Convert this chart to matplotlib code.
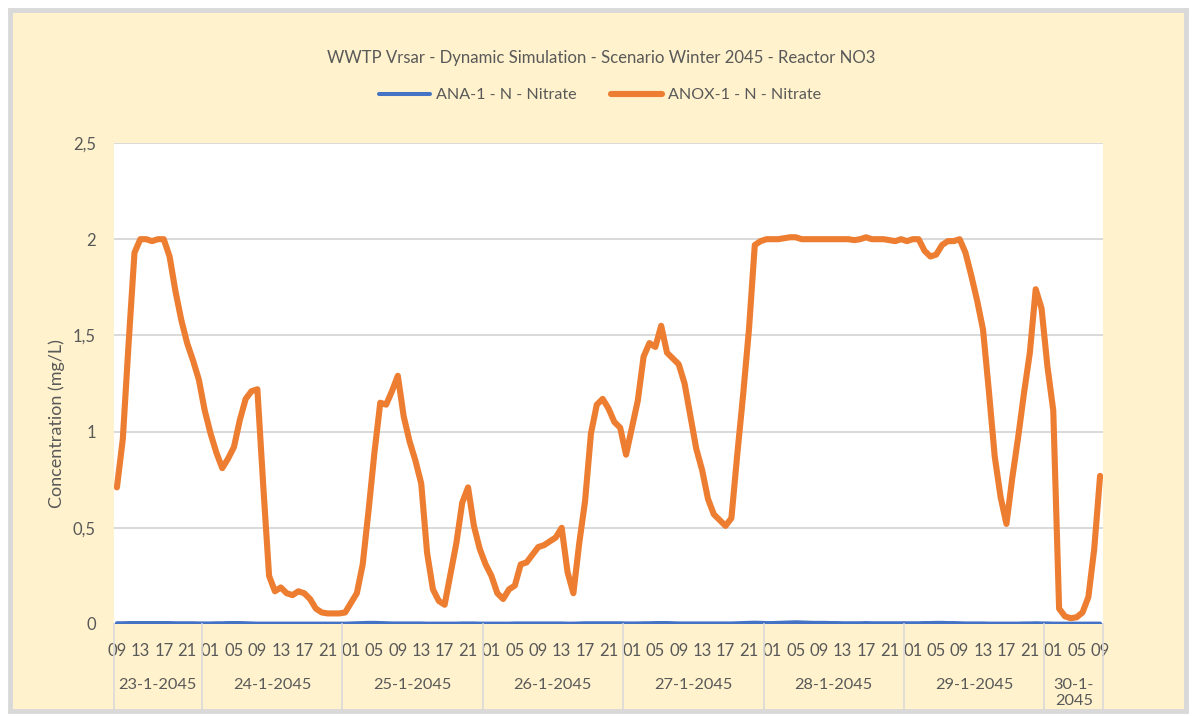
import matplotlib
matplotlib.use('Agg')
import matplotlib.pyplot as plt
import matplotlib.transforms as mtransforms
from matplotlib.patches import Rectangle
from matplotlib.lines import Line2D
import numpy as np

plt.rcParams['font.family'] = ['Lato', 'DejaVu Sans']

W, H = 1192, 716

title = 'WWTP Vrsar - Dynamic Simulation - Scenario Winter 2045 - Reactor NO3'
series_names = ['ANA-1 - N - Nitrate', 'ANOX-1 - N - Nitrate']
y_label = 'Concentration (mg/L)'

# hourly values, 23-1-2045 09:00 ... 30-1-2045 09:00 (169 points)
anox = [
    0.71, 0.96, 1.46, 1.93, 2.00, 2.00, 1.99, 2.00, 2.00, 1.91,
    1.73, 1.58, 1.46, 1.37, 1.27, 1.11, 0.99, 0.89, 0.81, 0.86,
    0.92, 1.06, 1.17, 1.21, 1.22, 0.72, 0.25, 0.17, 0.19, 0.16,
    0.15, 0.17, 0.16, 0.13, 0.08, 0.06, 0.055, 0.055, 0.055, 0.06,
    0.11, 0.16, 0.31, 0.59, 0.89, 1.15, 1.14, 1.21, 1.29, 1.08,
    0.95, 0.85, 0.73, 0.37, 0.18, 0.12, 0.10, 0.26, 0.42, 0.63,
    0.71, 0.51, 0.39, 0.31, 0.25, 0.16, 0.13, 0.18, 0.20, 0.31,
    0.32, 0.36, 0.40, 0.41, 0.43, 0.45, 0.50, 0.27, 0.16, 0.42,
    0.64, 0.99, 1.14, 1.17, 1.12, 1.05, 1.02, 0.88, 1.02, 1.16,
    1.39, 1.46, 1.44, 1.55, 1.41, 1.38, 1.35, 1.25, 1.08, 0.91,
    0.80, 0.65, 0.57, 0.54, 0.51, 0.55, 0.88, 1.19, 1.53, 1.97,
    1.99, 2.00, 2.00, 2.00, 2.005, 2.01, 2.01, 2.00, 2.00, 2.00,
    2.00, 2.00, 2.00, 2.00, 2.00, 2.00, 1.995, 2.00, 2.01, 2.00,
    2.00, 2.00, 1.995, 1.99, 2.00, 1.99, 2.00, 2.00, 1.94, 1.91,
    1.92, 1.97, 1.99, 1.99, 2.00, 1.93, 1.81, 1.68, 1.53, 1.21,
    0.87, 0.66, 0.52, 0.76, 0.97, 1.20, 1.41, 1.74, 1.64, 1.34,
    1.11, 0.08, 0.04, 0.03, 0.035, 0.06, 0.14, 0.39, 0.77,
]

ana = [
    0.004, 0.004, 0.005, 0.005, 0.005, 0.005, 0.005, 0.005, 0.005, 0.005,
    0.004, 0.004, 0.004, 0.004, 0.003, 0.003, 0.003, 0.004, 0.004, 0.005,
    0.005, 0.005, 0.004, 0.003, 0.002, 0.002, 0.002, 0.002, 0.002, 0.002,
    0.002, 0.002, 0.002, 0.002, 0.002, 0.002, 0.002, 0.002, 0.002, 0.002,
    0.003, 0.004, 0.005, 0.006, 0.006, 0.005, 0.004, 0.003, 0.003, 0.003,
    0.003, 0.003, 0.003, 0.002, 0.002, 0.002, 0.002, 0.002, 0.002, 0.003,
    0.003, 0.003, 0.002, 0.002, 0.002, 0.002, 0.002, 0.002, 0.003, 0.003,
    0.003, 0.003, 0.003, 0.003, 0.003, 0.003, 0.003, 0.002, 0.002, 0.003,
    0.004, 0.004, 0.004, 0.004, 0.004, 0.004, 0.004, 0.003, 0.003, 0.003,
    0.004, 0.004, 0.005, 0.005, 0.005, 0.004, 0.003, 0.003, 0.003, 0.003,
    0.003, 0.003, 0.003, 0.003, 0.003, 0.003, 0.004, 0.005, 0.006, 0.007,
    0.006, 0.005, 0.005, 0.006, 0.007, 0.008, 0.009, 0.008, 0.007, 0.006,
    0.006, 0.006, 0.005, 0.005, 0.004, 0.004, 0.004, 0.004, 0.005, 0.004,
    0.004, 0.004, 0.004, 0.004, 0.004, 0.004, 0.004, 0.004, 0.005, 0.005,
    0.006, 0.006, 0.005, 0.005, 0.004, 0.003, 0.003, 0.003, 0.003, 0.002,
    0.002, 0.002, 0.002, 0.002, 0.002, 0.003, 0.003, 0.004, 0.003, 0.003,
    0.002, 0.002, 0.002, 0.002, 0.002, 0.002, 0.002, 0.002, 0.002,
]

hour_labels = ['09', '13', '17', '21',
               '01', '05', '09', '13', '17', '21',
               '01', '05', '09', '13', '17', '21',
               '01', '05', '09', '13', '17', '21',
               '01', '05', '09', '13', '17', '21',
               '01', '05', '09', '13', '17', '21',
               '01', '05', '09', '13', '17', '21',
               '01', '05', '09']
day_labels = ['23-1-2045', '24-1-2045', '25-1-2045', '26-1-2045',
              '27-1-2045', '28-1-2045', '29-1-2045', '30-1-\n2045']
hours_per_day = [15, 24, 24, 24, 24, 24, 24, 10]

y_ticks = [0, 0.5, 1, 1.5, 2, 2.5]
y_tick_labels = ['0', '0,5', '1', '1,5', '2', '2,5']

TXT = '#595959'
GRID = '#d9d9d9'


def fx(px):
    return px / W


def fy(py):
    return 1 - py / H


fig = plt.figure(figsize=(W / 100, H / 100), dpi=100)
fig.patch.set_facecolor('white')

panel = Rectangle((fx(10), fy(711)), fx(1186) - fx(10), fy(10) - fy(711),
                  transform=fig.transFigure, facecolor='#fff2cc',
                  edgecolor='none', zorder=-5)
fig.patches.append(panel)

ax = fig.add_axes([fx(114), fy(624), fx(1103) - fx(114), fy(143) - fy(624)])
ax.set_facecolor('white')

x = np.arange(len(anox))
l1, = ax.plot(x, ana, color='#4472c4', lw=2.9, solid_joinstyle='round',
              solid_capstyle='round', zorder=3)
l2, = ax.plot(x, anox, color='#ed7d31', lw=4.4, solid_joinstyle='round',
              solid_capstyle='round', zorder=4)

ax.set_xlim(-0.5, len(x) - 0.5)
ax.set_ylim(0, 2.5)
ax.set_yticks(y_ticks, y_tick_labels)
ax.yaxis.grid(True, color=GRID, lw=1.4)
ax.set_axisbelow(True)
for s in ax.spines.values():
    s.set_visible(False)
ax.tick_params(axis='y', length=0, pad=13, labelsize=12, labelcolor=TXT)

tick_idx = np.arange(0, len(x), 4)
ax.set_xticks(tick_idx, hour_labels)
ax.tick_params(axis='x', length=0, pad=14, labelsize=12, labelcolor=TXT)

trans = mtransforms.blended_transform_factory(ax.transData, fig.transFigure)
bounds = np.concatenate([[0], np.cumsum(hours_per_day)]) - 0.5
for b in bounds:
    fig.add_artist(Line2D([b, b], [fy(624), fy(710)], transform=trans,
                          color=GRID, lw=1.2, zorder=1))
for i, lab in enumerate(day_labels):
    c = (bounds[i] + bounds[i + 1]) / 2
    ax.text(c, fy(678), lab, transform=trans, ha='center', va='top',
            fontsize=11.8, color=TXT, linespacing=1.2)

fig.text(fx(601), fy(58), title, ha='center', va='center', fontsize=12.1,
         color=TXT)
fig.text(fx(57), fy(424), y_label, rotation=90, ha='center', va='center',
         fontsize=13, color=TXT)

fig.legend([l1, l2], series_names, loc='center',
           bbox_to_anchor=(fx(600), fy(95)), ncol=2, frameon=False,
           handlelength=3.2, handletextpad=0.37, columnspacing=2.1,
           fontsize=11.6, labelcolor=TXT)

# border and clipping band on top
fig.add_artist(Rectangle((0, 0), 1, fy(711), transform=fig.transFigure,
                         facecolor='white', edgecolor='none', zorder=20))
fig.add_artist(Rectangle((fx(10), fy(711)), fx(1186) - fx(10),
                         fy(10) - fy(711), transform=fig.transFigure,
                         facecolor='none', edgecolor='#d9d9d9', lw=3.5,
                         zorder=21))

fig.savefig('out.png', dpi=100, facecolor='white')
